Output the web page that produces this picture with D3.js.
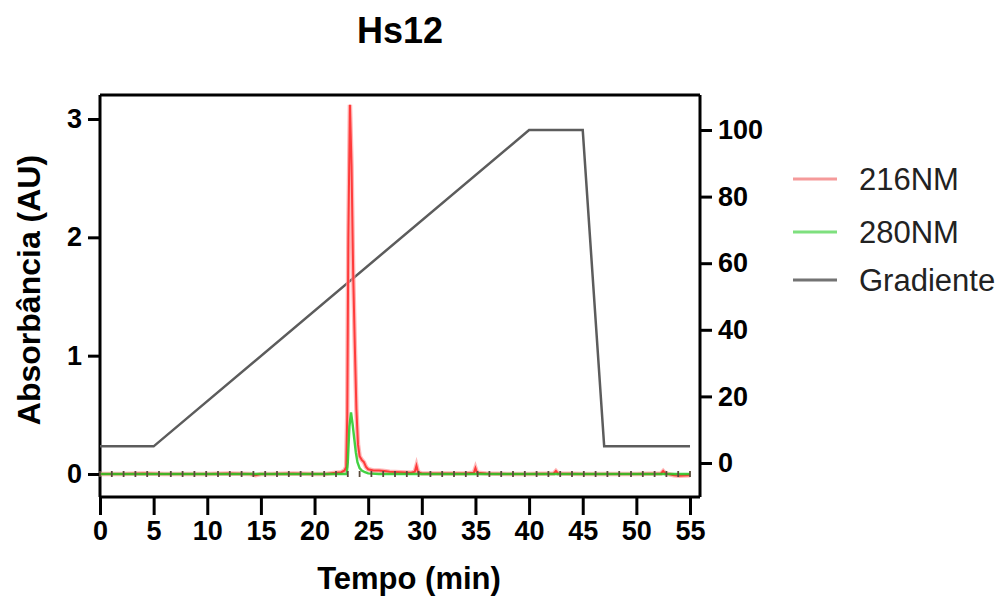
<!DOCTYPE html>
<html>
<head>
<meta charset="utf-8">
<script src="https://cdn.jsdelivr.net/npm/d3@7"></script>
<style>
  html, body { margin: 0; padding: 0; background: #fff; }
  svg { display: block; }
  text { font-family: "Liberation Sans", Arial, Helvetica, sans-serif; }
</style>
</head>
<body>
<svg id="chart" width="1004" height="599"></svg>
<script>
// ---- data ----
const xTicks = [0, 5, 10, 15, 20, 25, 30, 35, 40, 45, 50, 55];
const yLeftTicks = [0, 1, 2, 3];
const yRightTicks = [0, 20, 40, 60, 80, 100];

const tempo216 = [0, 2, 4, 6, 8, 10, 12, 14, 14.5, 15, 16, 18, 20, 21, 22, 22.5, 22.8, 22.95, 23.05, 23.15, 23.3, 23.45, 23.6, 23.75, 23.9, 24.05, 24.2, 24.4, 24.6, 24.8, 25.0, 25.5, 26, 26.5, 27, 28, 29, 29.35, 29.5, 29.65, 30, 32, 34, 34.85, 35, 35.15, 36, 38, 40, 42.3, 42.5, 42.7, 45, 48, 50, 52.3, 52.5, 52.7, 53.5, 54, 55];
const abs216 = [0, 0, 0.005, 0, 0, 0, 0.005, 0, -0.01, 0, 0, 0.005, 0, 0, 0.01, 0.015, 0.03, 0.06, 0.5, 2.0, 3.12, 2.6, 1.7, 1.1, 0.55, 0.25, 0.15, 0.12, 0.1, 0.06, 0.04, 0.03, 0.03, 0.025, 0.02, 0.015, 0.01, 0.02, 0.07, 0.015, 0.005, 0.005, 0.005, 0.01, 0.05, 0.01, 0.005, 0, 0, 0.005, 0.025, 0.005, 0, 0, 0, 0.005, 0.025, 0.005, -0.01, -0.015, -0.01];

const tempo280 = [0, 10, 20, 22.5, 23.0, 23.1, 23.25, 23.4, 23.55, 23.7, 23.85, 24.0, 24.2, 24.4, 24.7, 25.0, 26, 30, 40, 50, 55];
const abs280 = [0, 0, 0, 0, 0, 0.1, 0.4, 0.52, 0.42, 0.3, 0.18, 0.1, 0.05, 0.03, 0.015, 0.005, 0, 0, 0, 0, 0];

const tempoGrad = [0, 5, 40, 45, 47, 55];
const gradiente = [5, 5, 100, 100, 5, 5];

const tempoMarcas = [0, 1.1, 2.2, 3.3, 4.4, 5.5, 6.6, 7.7, 8.8, 9.9, 11, 12.1, 13.2, 14.3, 15.4, 16.5, 17.6, 18.7, 19.8, 20.9, 22, 23.1, 24.2, 25.3, 26.4, 27.5, 28.6, 29.7, 30.8, 31.9, 33, 34.1, 35.2, 36.3, 37.4, 38.5, 39.6, 40.7, 41.8, 42.9, 44, 45.1, 46.2, 47.3, 48.4, 49.5, 50.6, 51.7, 52.8, 53.9, 55];

const series = ["216NM", "280NM", "Gradiente"];
const colors = { "216NM": "#ff3b3b", "280NM": "#22c922", "Gradiente": "#5c5c5c" };
const legendColors = { "216NM": "#f59a9a", "280NM": "#7ee07e", "Gradiente": "#737373" };

// ---- layout ----
const svg = d3.select("#chart");
const pL = 100, pR = 700, pT = 95, pB = 497;

const x = d3.scaleLinear().domain([0, 55]).range([100, 690]);
const yL = d3.scaleLinear().domain([0, 3]).range([474, 119]);
const yR = d3.scaleLinear().domain([0, 100]).range([463, 130]);

// frame
svg.append("line").attr("x1", pL).attr("x2", pR).attr("y1", pT).attr("y2", pT)
  .attr("stroke", "#000").attr("stroke-width", 3);

// left axis
const gL = svg.append("g").attr("transform", `translate(${pL},0)`)
  .call(d3.axisLeft(yL).tickValues(yLeftTicks).tickSize(12).tickPadding(6).tickFormat(d3.format("d")));
gL.select(".domain").remove();
gL.append("line").attr("x1", 0).attr("x2", 0).attr("y1", pT).attr("y2", pB).attr("stroke", "#000").attr("stroke-width", 3);

// right axis
const gR = svg.append("g").attr("transform", `translate(${pR},0)`)
  .call(d3.axisRight(yR).tickValues(yRightTicks).tickSize(12).tickPadding(6).tickFormat(d3.format("d")));
gR.select(".domain").remove();
gR.append("line").attr("x1", 0).attr("x2", 0).attr("y1", pT).attr("y2", pB).attr("stroke", "#000").attr("stroke-width", 3);

// bottom axis
const gX = svg.append("g").attr("transform", `translate(0,${pB})`)
  .call(d3.axisBottom(x).tickValues(xTicks).tickSize(18).tickPadding(6).tickFormat(d3.format("d")));
gX.select(".domain").remove();
gX.append("line").attr("x1", pL).attr("x2", pR).attr("y1", 0).attr("y2", 0).attr("stroke", "#000").attr("stroke-width", 3);

[gL, gR, gX].forEach(g => {
  g.selectAll(".tick line").attr("stroke", "#000").attr("stroke-width", 3);
  g.selectAll(".tick text").attr("fill", "#000").style("font-size", "27px").style("font-weight", "bold");
});

// gradient line
const lineGrad = d3.line().x((d, i) => x(tempoGrad[i])).y(d => yR(d));
svg.append("path").datum(gradiente).attr("d", lineGrad)
  .attr("fill", "none").attr("stroke", colors["Gradiente"]).attr("stroke-width", 2.5);

// 216 line (halo + core)
const line216 = d3.line().x((d, i) => x(tempo216[i])).y(d => yL(d));
svg.append("path").datum(abs216).attr("d", line216)
  .attr("fill", "none").attr("stroke", "#ff9a9a").attr("stroke-width", 4.5).attr("stroke-opacity", 0.7);
svg.append("path").datum(abs216).attr("d", line216)
  .attr("fill", "none").attr("stroke", colors["216NM"]).attr("stroke-width", 2);

// 280 line
const line280 = d3.line().x((d, i) => x(tempo280[i])).y(d => yL(d));
svg.append("path").datum(abs280).attr("d", line280)
  .attr("fill", "none").attr("stroke", colors["280NM"]).attr("stroke-width", 2.4).attr("stroke-opacity", 0.85);

// baseline markers
svg.append("g").selectAll("line").data(tempoMarcas).join("line")
  .attr("x1", d => x(d)).attr("x2", d => x(d))
  .attr("y1", yL(0) - 3).attr("y2", yL(0) + 3)
  .attr("stroke", "#5a4a3a").attr("stroke-width", 1.8);

// title
svg.append("text").attr("x", 400).attr("y", 43).attr("text-anchor", "middle")
  .style("font-size", "36px").style("font-weight", "bold").attr("fill", "#000").text("Hs12");

// axis titles
svg.append("text").attr("x", 409).attr("y", 589).attr("text-anchor", "middle")
  .style("font-size", "31px").style("font-weight", "bold").attr("fill", "#000").text("Tempo (min)");
svg.append("text").attr("transform", "translate(40,290) rotate(-90)").attr("text-anchor", "middle")
  .style("font-size", "32px").style("font-weight", "bold").attr("fill", "#000").text("Absorbância (AU)");

// legend
const legY = [179, 232, 280];
const leg = svg.append("g").selectAll("g").data(series).join("g")
  .attr("transform", (d, i) => `translate(0,${legY[i]})`);
leg.append("line").attr("x1", 793).attr("x2", 837).attr("y1", 0).attr("y2", 0)
  .attr("stroke", d => legendColors[d]).attr("stroke-width", 3);
leg.append("text").attr("x", 859).attr("y", 0).attr("dy", "0.36em")
  .style("font-size", "31px").attr("fill", "#222").text(d => d);
</script>
</body>
</html>
